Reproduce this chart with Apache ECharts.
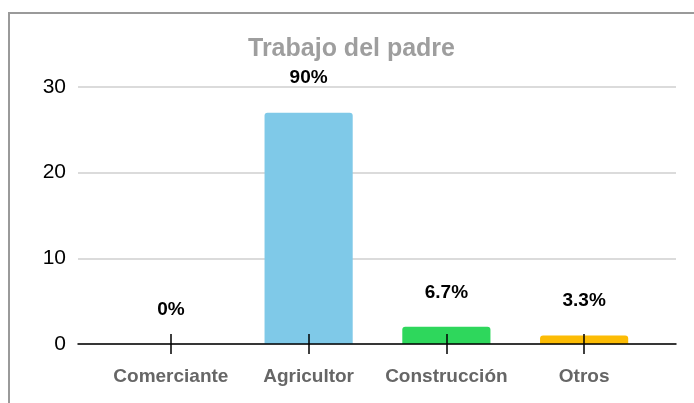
<!DOCTYPE html>
<html>
<head>
<meta charset="utf-8">
<script src="https://cdn.jsdelivr.net/npm/echarts@6/dist/echarts.min.js"></script>
<style>
  html, body { margin: 0; padding: 0; background: #fff; }
  #frame {
    position: absolute; left: 8px; top: 12px; width: 700px; height: 400px;
    border-left: 2px solid #9a9a9a; border-top: 2px solid #9a9a9a;
  }
  #chart { position: absolute; left: 0; top: 0; width: 694px; height: 403px; }
</style>
</head>
<body>
<div id="frame"></div>
<div id="chart"></div>
<script>
// datos
var categorias = ["Comerciante", "Agricultor", "Construcción", "Otros"];
var valores = [0, 27, 2, 1];
var etiquetas = ["0%", "90%", "6.7%", "3.3%"];
var colores = ["#7fc9e8", "#7fc9e8", "#2ed75c", "#fcbc05"];
var yTicks = [0, 10, 20, 30];

var chart = echarts.init(document.getElementById("chart"));
chart.setOption({
  animation: false,
  title: {
    text: "Trabajo del padre",
    left: 243,
    top: 32,
    textStyle: {
      color: "#9e9e9e",
      fontSize: 25,
      fontWeight: "bold",
      fontFamily: "Liberation Sans"
    }
  },
  grid: [
    { left: 78, right: 18, top: 87, bottom: 59 },
    { left: 102, right: 41, top: 87, bottom: 59 }
  ],
  xAxis: [
    {
      // solo la linea base, mas ancha que las categorias
      type: "value",
      gridIndex: 0,
      min: 0,
      max: 1,
      z: 5,
      axisLine: { show: true, lineStyle: { color: "#000", width: 1.5 } },
      axisTick: { show: false },
      axisLabel: { show: false },
      splitLine: { show: false }
    },
    {
      type: "category",
      gridIndex: 1,
      data: categorias,
      offset: -10,
      z: 5,
      axisLine: { show: false },
      axisTick: {
        show: true,
        interval: 0,
        alignWithLabel: true,
        length: 20,
        lineStyle: { color: "#000", width: 1.5 }
      },
      axisLabel: {
        interval: 0,
        hideOverlap: false,
        margin: 33,
        color: "#666",
        fontSize: 19,
        fontWeight: "bold",
        fontFamily: "Liberation Sans"
      }
    }
  ],
  yAxis: [
    {
      type: "value",
      gridIndex: 0,
      min: yTicks[0],
      max: yTicks[yTicks.length - 1],
      interval: 10,
      axisLine: { show: false },
      axisTick: { show: false },
      axisLabel: {
        margin: 12,
        color: "#000",
        fontSize: 21,
        fontFamily: "Liberation Sans"
      },
      splitLine: { lineStyle: { color: "#cfcfcf", width: 1.5 } }
    },
    {
      type: "value",
      gridIndex: 1,
      min: yTicks[0],
      max: yTicks[yTicks.length - 1],
      show: false
    }
  ],
  series: [
    {
      type: "bar",
      xAxisIndex: 1,
      yAxisIndex: 1,
      barWidth: "64%",
      data: valores.map(function (v, i) {
        return { value: v, itemStyle: { color: colores[i] } };
      }),
      itemStyle: { borderRadius: [3, 3, 0, 0] },
      label: {
        show: true,
        position: "top",
        distance: 25,
        color: "#000",
        fontSize: 19,
        fontWeight: "bold",
        fontFamily: "Liberation Sans",
        formatter: function (p) { return etiquetas[p.dataIndex]; }
      },
      z: 1
    }
  ]
});
</script>
</body>
</html>
